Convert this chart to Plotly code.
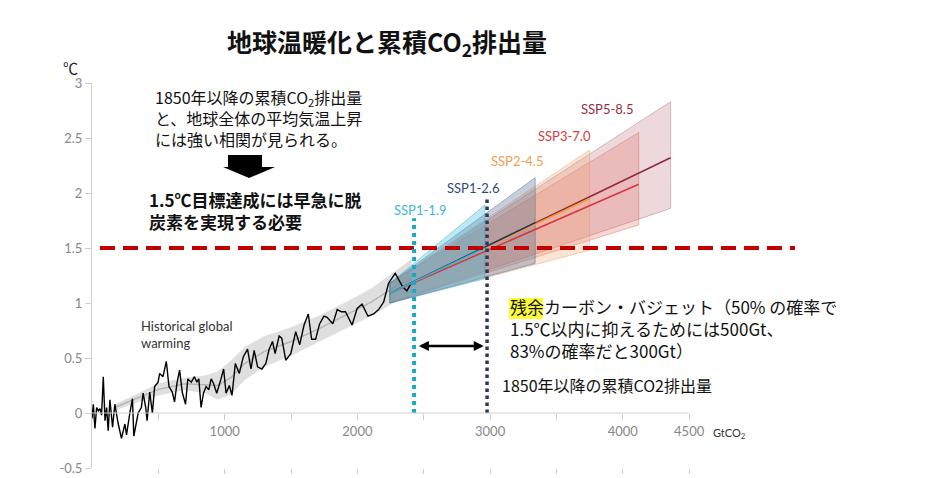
import plotly.graph_objects as go

# historical warming vs cumulative CO2 (GtCO2, degC)
hist_x = [0, 10, 22, 35, 48, 60, 72, 85, 98, 110, 122, 135, 155, 172, 198, 222, 248, 260, 285, 305,
          315, 348, 372, 385, 405, 415, 435, 455, 472, 498, 510, 535, 560, 580, 605, 622, 640, 660,
          680, 705, 722, 748, 772, 790, 805, 822, 840, 860, 880, 898, 915, 940, 972, 992, 1010, 1035,
          1055, 1080, 1110, 1140, 1172, 1198, 1222, 1248, 1280, 1310, 1335, 1360, 1380, 1410, 1430,
          1460, 1498, 1535, 1565, 1598, 1630, 1655, 1685, 1715, 1748, 1772, 1815, 1848, 1880, 1910,
          1960, 1998, 2035, 2080, 2122, 2160, 2198, 2235, 2285, 2340, 2373, 2410]
hist_y = [-0.05, 0.08, -0.14, 0.05, 0.02, 0.04, -0.02, 0.33, -0.07, 0.05, -0.16, 0.12, -0.13, 0.08,
          -0.10, -0.23, -0.10, -0.20, 0.0, 0.13, -0.21, 0.0, 0.05, 0.18, 0.05, -0.07, 0.19, 0.0, 0.24,
          0.28, 0.36, 0.33, 0.47, 0.24, 0.19, 0.10, 0.27, 0.39, 0.19, 0.08, 0.31, 0.28, 0.33, 0.28,
          0.31, 0.05, 0.18, 0.24, 0.21, 0.31, 0.27, 0.18, 0.31, 0.40, 0.18, 0.25, 0.16, 0.45, 0.36,
          0.51, 0.58, 0.40, 0.57, 0.42, 0.40, 0.45, 0.58, 0.65, 0.54, 0.70, 0.68, 0.48, 0.54, 0.74,
          0.62, 0.80, 0.90, 0.67, 0.67, 0.81, 0.88, 0.87, 0.81, 0.94, 0.92, 0.92, 0.80, 0.95, 0.99,
          0.88, 0.90, 0.94, 1.01, 1.18, 1.27, 1.15, 1.11, 1.19]

# smoothed historical band
band_x = [170, 300, 500, 700, 850, 950, 1050, 1150, 1300, 1500, 1700, 1900, 2100, 2300, 2410]
band_lo = [0.02, 0.08, 0.16, 0.21, 0.18, 0.12, 0.17, 0.30, 0.42, 0.52, 0.64, 0.76, 0.88, 1.02, 1.05]
band_hi = [0.08, 0.15, 0.27, 0.32, 0.34, 0.38, 0.48, 0.60, 0.70, 0.78, 0.88, 1.00, 1.13, 1.30, 1.40]

# scenarios
ssp_names = ["SSP5-8.5", "SSP3-7.0", "SSP2-4.5", "SSP1-2.6", "SSP1-1.9"]
ssp_start_x = 2245
ssp_start_lo = 1.0
ssp_start_hi = 1.18
ssp_start_mid = 1.09
ssp_end_x = [4360, 4120, 3750, 3340, 2960]
ssp_end_lo = [1.86, 1.71, 1.48, 1.36, 1.22]
ssp_end_hi = [2.83, 2.55, 2.39, 2.14, 1.89]
ssp_end_mid = [2.32, 2.08, 1.95, 1.73, 1.50]
ssp_label_x = [3881, 3557, 3203, 2871, 2472]
ssp_label_y = [2.76, 2.52, 2.29, 2.045, 1.845]

ssp_line_col = ["#8c2a3c", "#d8343f", "#f39a3c", "#1f3a5f", "#33b5d6"]
ssp_fill_col = ["rgba(190,120,130,0.28)", "rgba(225,110,100,0.28)", "rgba(240,160,110,0.28)",
                "rgba(90,115,150,0.35)", "rgba(70,190,220,0.35)"]
ssp_edge_col = ["rgba(150,80,90,0.45)", "rgba(200,90,80,0.45)", "rgba(220,140,90,0.45)",
                "rgba(60,90,130,0.5)", "rgba(30,160,200,0.5)"]
ssp_text_col = ["#9b2d40", "#d63c3c", "#f0a050", "#2e4a78", "#3db8d5"]

# reference values
target_temp = 1.5
target_x = [60, 5298]
budget_x = [2427, 2977]
budget_top = [1.77, 1.94]
arrow_y = 0.61

x_ticks = [500, 1000, 1500, 2000, 2500, 3000, 3500, 4000, 4500]
x_ticktext = ["", "1000", "", "2000", "", "3000", "", "4000", "4500"]
y_ticks = [-0.5, 0, 0.5, 1, 1.5, 2, 2.5, 3]
y_ticktext = ["-0.5", "0", "0.5", "1", "1.5", "2", "2.5", "3"]

JP = "Noto Sans CJK JP"

fig = go.Figure()

# historical band
fig.add_trace(go.Scatter(x=band_x + band_x[::-1], y=band_hi + band_lo[::-1], fill="toself",
                         fillcolor="rgba(185,185,185,0.45)", line=dict(width=0),
                         mode="lines", showlegend=False, hoverinfo="skip"))
fig.add_trace(go.Scatter(x=band_x, y=[(a + b) / 2 for a, b in zip(band_lo, band_hi)],
                         mode="lines", line=dict(color="#b5b5b5", width=1.5),
                         showlegend=False, hoverinfo="skip"))

# scenario bands
for i, name in enumerate(ssp_names):
    x1 = ssp_end_x[i]
    fig.add_trace(go.Scatter(
        x=[ssp_start_x, x1, x1, ssp_start_x, ssp_start_x],
        y=[ssp_start_lo, ssp_end_lo[i], ssp_end_hi[i], ssp_start_hi, ssp_start_lo],
        fill="toself", fillcolor=ssp_fill_col[i], mode="lines",
        line=dict(color=ssp_edge_col[i], width=0.8), showlegend=False, name=name))

# historical line
fig.add_trace(go.Scatter(x=hist_x, y=hist_y, mode="lines", line=dict(color="black", width=1.4),
                         showlegend=False))

# scenario central lines
for i, name in enumerate(ssp_names):
    fig.add_trace(go.Scatter(x=[ssp_start_x, ssp_end_x[i]], y=[ssp_start_mid, ssp_end_mid[i]],
                             mode="lines", line=dict(color=ssp_line_col[i], width=1.5),
                             showlegend=False))

# 1.5C target
fig.add_trace(go.Scatter(x=target_x, y=[target_temp, target_temp], mode="lines",
                         line=dict(color="#c00000", width=4, dash="15px,8px"), showlegend=False))

# budget dotted verticals
fig.add_trace(go.Scatter(x=[budget_x[0], budget_x[0]], y=[0, budget_top[0]], mode="lines",
                         line=dict(color="#1aa8c8", width=4, dash="dot"), showlegend=False))
fig.add_trace(go.Scatter(x=[budget_x[1], budget_x[1]], y=[0, budget_top[1]], mode="lines",
                         line=dict(color="#2b3a5a", width=3.5, dash="dot"), showlegend=False))

# dummy for bottom tick axis
fig.add_trace(go.Scatter(x=[None], y=[None], xaxis="x2", showlegend=False, hoverinfo="skip"))

for i, name in enumerate(ssp_names):
    fig.add_annotation(x=ssp_label_x[i], y=ssp_label_y[i], text=name, showarrow=False,
                       font=dict(family="Lato", size=13, color=ssp_text_col[i]))

# double arrow between budgets
fig.add_annotation(x=budget_x[1] - 25, y=arrow_y, ax=budget_x[0] + 25, ay=arrow_y,
                   xref="x", yref="y", axref="x", ayref="y", text="", showarrow=True,
                   arrowhead=2, arrowside="end+start", arrowwidth=2.5, arrowsize=0.8,
                   arrowcolor="black")

fig.add_annotation(x=354, y=0.71, text="Historical global<br>warming", showarrow=False,
                   xanchor="left", align="left", font=dict(family="Lato", size=13, color="#333"))

txt = dict(xref="paper", yref="paper", showarrow=False, xanchor="left", yanchor="middle",
           align="left")
fig.add_annotation(x=0.0838, y=0.909,
                   text="1850年以降の累積CO<sub>2</sub>排出量<br>と、地球全体の平均気温上昇<br>には強い相関が見られる。",
                   font=dict(family=JP, size=16, color="#111"), **txt)
fig.add_annotation(x=0.0755, y=0.670, text="<b>1.5℃目標達成には早急に脱<br>炭素を実現する必要</b>",
                   font=dict(family=JP, size=17, color="#111"), **txt)
fig.add_annotation(x=0.5714, y=0.3636,
                   text="残余カーボン・バジェット（50% の確率で<br>1.5℃以内に抑えるためには500Gt、<br>83%の確率だと300Gt）",
                   font=dict(family=JP, size=17, color="#111"), **txt)
fig.add_annotation(x=0.5604, y=0.2156, text="1850年以降の累積CO2排出量",
                   font=dict(family=JP, size=16, color="#111"), **txt)
fig.add_annotation(x=0.850, y=0.0909, text="GtCO<sub>2</sub>",
                   font=dict(family="Lato", size=11, color="#333"), **txt)
fig.add_annotation(x=-0.0302, y=1.041, xref="paper", yref="paper", showarrow=False, text="℃",
                   xanchor="center", yanchor="middle", font=dict(family=JP, size=15, color="#222"))
fig.add_annotation(x=0.405, y=1.104, xref="paper", yref="paper", showarrow=False,
                   xanchor="center", yanchor="middle",
                   text="<b>地球温暖化と累積CO<sub>2</sub>排出量</b>",
                   font=dict(family=JP, size=25, color="#111"))

# x axis line at zero, yellow highlight, down arrow
fig.add_shape(type="line", x0=0, x1=4500, y0=0, y1=0, xref="x", yref="y",
              line=dict(color="#d0d0d0", width=1))
fig.add_shape(type="rect", xref="paper", yref="paper", x0=0.5728, x1=0.6195, y0=0.387, y1=0.4416,
              fillcolor="#ffff33", line=dict(width=0), layer="below")
fig.add_shape(type="path", xref="paper", yref="paper", fillcolor="black", line=dict(width=0),
              path="M 0.1868 0.813 L 0.2335 0.813 L 0.2335 0.782 L 0.2514 0.782 L 0.2157 0.753 "
                   "L 0.18 0.782 L 0.1868 0.782 Z")

# page body adds an 8px offset, so the figure is drawn 8px smaller
fig.update_layout(
    width=922, height=470,
    margin=dict(l=84, r=110, t=75, b=10, autoexpand=False),
    plot_bgcolor="white", paper_bgcolor="white",
    xaxis=dict(range=[0, 5486], anchor="free", position=0.5 / 3.5, showline=False,
               ticks="outside", ticklen=6, tickcolor="#cfcfcf", tickvals=x_ticks,
               ticktext=x_ticktext, tickfont=dict(family="Lato", size=13, color="#888"),
               showgrid=False, zeroline=False, automargin=False),
    xaxis2=dict(range=[0, 5486], overlaying="x", anchor="y", side="bottom", ticks="outside",
                ticklen=5, tickcolor="#cfcfcf", tickvals=x_ticks, showticklabels=False,
                showgrid=False, zeroline=False, showline=False, automargin=False),
    yaxis=dict(range=[-0.5, 3], showline=True, linecolor="#d0d0d0", ticks="outside", ticklen=6,
               tickcolor="#d0d0d0", tickvals=y_ticks, ticktext=y_ticktext, automargin=False,
               tickfont=dict(family="Lato", size=13, color="#888"), showgrid=False, zeroline=False),
)

fig.write_html("out.html")
